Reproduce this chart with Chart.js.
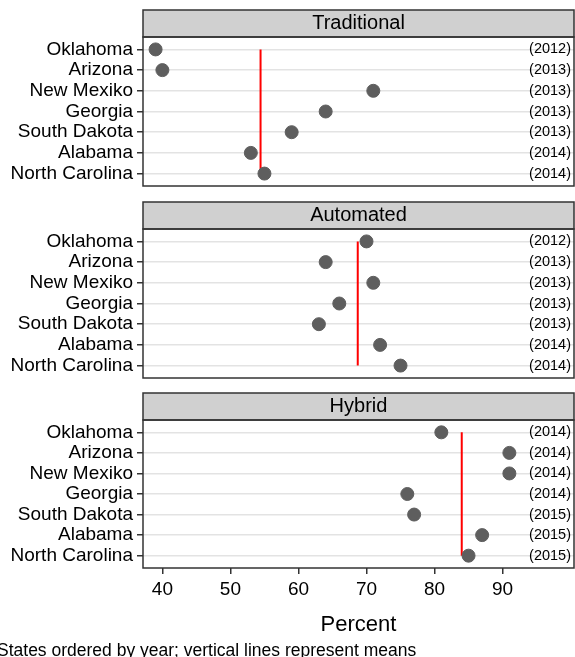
<!DOCTYPE html>
<html>
<head>
<meta charset="utf-8">
<script src="https://cdn.jsdelivr.net/npm/chart.js@4/dist/chart.umd.min.js"></script>
<style>
body { margin: 0; background: #fff; width: 575px; height: 657px; overflow: hidden; position: relative; }
.panel { position: absolute; left: 0; width: 575px; }
</style>
</head>
<body>
<div class="panel" style="top:0px;height:190px"><canvas id="traditionalChart"></canvas></div>
<div class="panel" style="top:192px;height:190px"><canvas id="automatedChart"></canvas></div>
<div class="panel" style="top:384px;height:273px"><canvas id="hybridChart"></canvas></div>
<script>
const states = ["Oklahoma", "Arizona", "New Mexiko", "Georgia", "South Dakota", "Alabama", "North Carolina"];

const traditionalValues = [39, 40, 71, 64, 59, 53, 55];
const automatedValues = [70, 64, 71, 66, 63, 72, 75];
const hybridValues = [81, 91, 91, 76, 77, 87, 85];

const traditionalYears = ["2012", "2013", "2013", "2013", "2013", "2014", "2014"];
const automatedYears = ["2012", "2013", "2013", "2013", "2013", "2014", "2014"];
const hybridYears = ["2014", "2014", "2014", "2014", "2015", "2015", "2015"];

const xTicks = [40, 50, 60, 70, 80, 90];
const xTitle = "Percent";
const caption = "States ordered by year; vertical lines represent means";

const FONT = "'Liberation Sans', Arial, Helvetica, sans-serif";

function mean(values)
{
    return values.reduce((a, b) => a + b, 0) / values.length;
}

function clearScalePadding(scale)
{
    scale.paddingTop = 0;
    scale.paddingBottom = 0;
    scale.paddingLeft = 0;
    scale.paddingRight = 0;
}

const panelPlugin =
{
    id: "panelPlugin",
    beforeDraw(chart)
    {
        const ctx = chart.ctx;
        const area = chart.chartArea;

        ctx.save();
        ctx.fillStyle = "#d0d0d0";
        ctx.fillRect(area.left, area.top - 27, area.right - area.left, 27);
        ctx.restore();
    },
    afterDatasetsDraw(chart)
    {
        const ctx = chart.ctx;
        const area = chart.chartArea;
        const opts = chart.options.plugins.panelPlugin;
        const yScale = chart.scales.y;

        ctx.save();
        ctx.strokeStyle = "#333";
        ctx.lineWidth = 1.5;
        ctx.strokeRect(area.left, area.top - 27, area.right - area.left, 27);
        ctx.strokeRect(area.left, area.top, area.right - area.left, area.bottom - area.top);

        ctx.fillStyle = "#000";
        ctx.font = "20px " + FONT;
        ctx.textAlign = "center";
        ctx.textBaseline = "middle";
        ctx.fillText(opts.title, (area.left + area.right) / 2, area.top - 13.5);

        ctx.font = "14.5px " + FONT;
        ctx.textAlign = "right";
        opts.years.forEach((year, i) =>
        {
            ctx.fillText("(" + year + ")", area.right - 3, yScale.getPixelForValue(i));
        });

        if (opts.caption)
        {
            ctx.font = "17.5px " + FONT;
            ctx.textAlign = "left";
            ctx.textBaseline = "alphabetic";
            ctx.fillText(opts.caption, -3, chart.height - 1);
        }
        ctx.restore();
    }
};

function createPanelChart(canvasId, title, values, years, showAxis)
{
    const points = values.map((v, i) =>
    {
        return { x: v, y: i };
    });
    const m = mean(values);

    return new Chart(document.getElementById(canvasId).getContext("2d"),
    {
        type: "scatter",
        data:
        {
            datasets:
            [
                {
                    type: "line",
                    data: [{ x: m, y: 0 }, { x: m, y: states.length - 1 }],
                    borderColor: "#ff0000",
                    borderWidth: 2,
                    pointRadius: 0,
                    order: 2
                },
                {
                    data: points,
                    backgroundColor: "#5e5e5e",
                    borderColor: "#5e5e5e",
                    pointRadius: 6.5,
                    pointHoverRadius: 6.5,
                    order: 1
                }
            ]
        },
        options:
        {
            animation: false,
            responsive: true,
            maintainAspectRatio: false,
            events: [],
            layout:
            {
                autoPadding: false,
                padding: showAxis
                    ? { top: 36, right: 1, bottom: 19, left: 0 }
                    : { top: 37, right: 1, bottom: 4, left: 0 }
            },
            plugins:
            {
                legend: { display: false },
                tooltip: { enabled: false },
                panelPlugin:
                {
                    title: title,
                    years: years,
                    caption: showAxis ? caption : null
                }
            },
            scales:
            {
                x:
                {
                    type: "linear",
                    min: 37.15,
                    max: 100.5,
                    display: showAxis,
                    afterBuildTicks(scale)
                    {
                        scale.ticks = xTicks.map((v) =>
                        {
                            return { value: v };
                        });
                    },
                    afterFit(scale)
                    {
                        scale.height = showAxis ? 70 : 0;
                        clearScalePadding(scale);
                    },
                    border: { display: false },
                    grid:
                    {
                        drawOnChartArea: false,
                        drawTicks: true,
                        tickLength: 6,
                        tickColor: "#333",
                        lineWidth: 1.5
                    },
                    ticks:
                    {
                        color: "#000",
                        padding: 4,
                        maxRotation: 0,
                        autoSkip: false,
                        font: { family: FONT, size: 19 }
                    },
                    title:
                    {
                        display: true,
                        text: xTitle,
                        color: "#000",
                        padding: 0,
                        font: { family: FONT, size: 22 }
                    }
                },
                y:
                {
                    type: "linear",
                    reverse: true,
                    min: -0.6,
                    max: states.length - 1 + 0.6,
                    afterBuildTicks(scale)
                    {
                        scale.ticks = states.map((s, i) =>
                        {
                            return { value: i };
                        });
                    },
                    afterFit(scale)
                    {
                        scale.width = 143;
                        clearScalePadding(scale);
                    },
                    border: { display: false },
                    grid:
                    {
                        color: "#e3e3e3",
                        lineWidth: 1.5,
                        drawTicks: true,
                        tickLength: 6,
                        tickColor: "#333",
                        tickWidth: 1.5
                    },
                    ticks:
                    {
                        color: "#000",
                        padding: 4,
                        autoSkip: false,
                        font: { family: FONT, size: 19 },
                        callback(value)
                        {
                            return states[value];
                        }
                    }
                }
            }
        },
        plugins: [panelPlugin]
    });
}

window.traditionalChart = createPanelChart("traditionalChart", "Traditional", traditionalValues, traditionalYears, false);
window.automatedChart = createPanelChart("automatedChart", "Automated", automatedValues, automatedYears, false);
window.hybridChart = createPanelChart("hybridChart", "Hybrid", hybridValues, hybridYears, true);
</script>
</body>
</html>
